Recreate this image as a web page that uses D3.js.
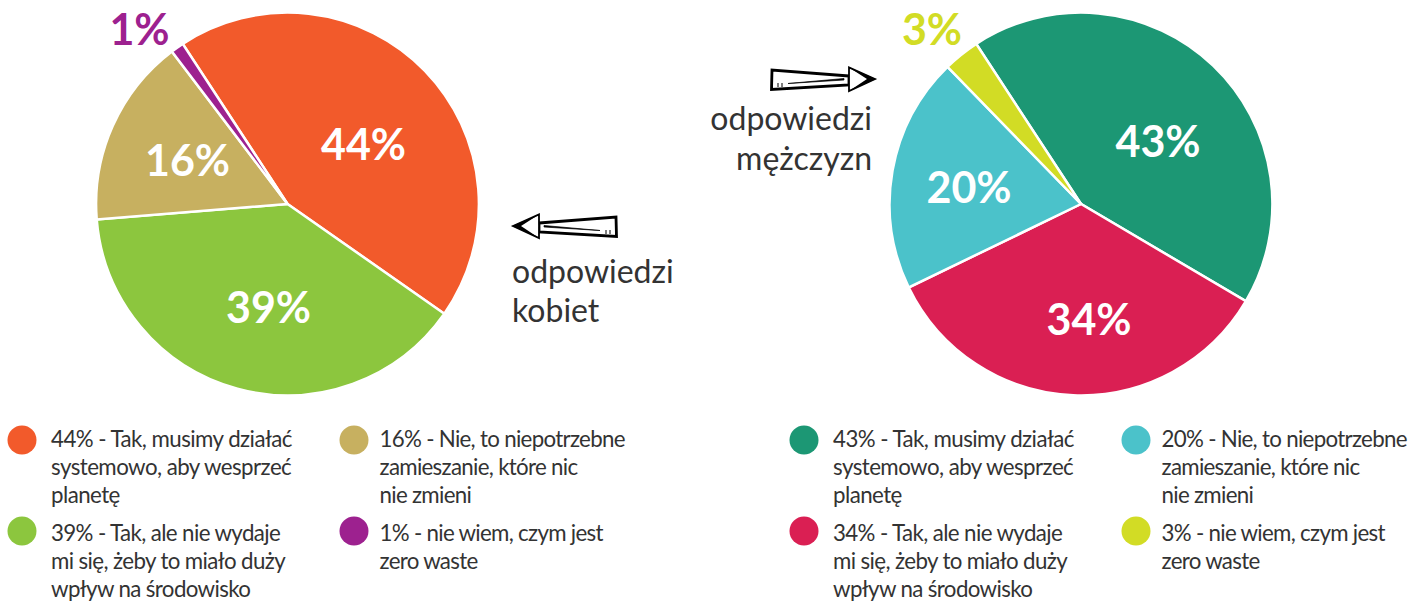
<!DOCTYPE html>
<html><head><meta charset="utf-8">
<script src="https://cdn.jsdelivr.net/npm/d3@7"></script>
<style>
html,body{margin:0;padding:0;background:#fff;overflow:hidden}
text{font-family:Lato,sans-serif}
</style></head><body><svg id="c" width="1426" height="603"></svg>
<script>
const womenValues=[43.94,39.0,15.96,1.1];
const womenLabels=["44%","39%","16%","1%"];
const womenColors=["#f25a2b","#8cc63e","#c7b060","#9d218f"];
const menValues=[42.7,34.34,19.9,3.06];
const menLabels=["43%","34%","20%","3%"];
const menColors=["#1c9774","#da1f53","#4bc2ca","#d2dc25"];
const legendWomen=[
 ["44% - Tak, musimy działać","systemowo, aby wesprzeć","planetę"],
 ["39% - Tak, ale nie wydaje","mi się, żeby to miało duży","wpływ na środowisko"],
 ["16% - Nie, to niepotrzebne","zamieszanie, które nic","nie zmieni"],
 ["1% - nie wiem, czym jest","zero waste"]];
const legendMen=[
 ["43% - Tak, musimy działać","systemowo, aby wesprzeć","planetę"],
 ["34% - Tak, ale nie wydaje","mi się, żeby to miało duży","wpływ na środowisko"],
 ["20% - Nie, to niepotrzebne","zamieszanie, które nic","nie zmieni"],
 ["3% - nie wiem, czym jest","zero waste"]];

// label anchor points relative to each pie's centre (layout only)
const womenLabelAt=[[76,-44],[-19,119],[-100,-28],[-148,-159]];
const menLabelAt=[[77,-47],[8,131],[-112,-1],[-149,-159]];

const svg=d3.select("#c");
const R=191.4,textDark="#333333";
const startDeg=-33.2;
function pie(cx,cy,vals,labels,cols,at){
  const g=svg.append("g").attr("transform",`translate(${cx},${cy})`);
  const a=d3.pie().sort(null).startAngle(startDeg*Math.PI/180).endAngle((startDeg+360)*Math.PI/180)(vals);
  const arc=d3.arc().innerRadius(0).outerRadius(R);
  g.selectAll("path").data(a).join("path").attr("d",arc)
   .attr("fill",(d,i)=>cols[i]).attr("stroke","#fff").attr("stroke-width",2.5);
  g.selectAll("text").data(a).join("text")
   .attr("text-anchor","middle").attr("font-weight",700).attr("font-size",43)
   .attr("fill",(d,i)=>i===3?cols[3]:"#fff")
   .attr("x",(d,i)=>at[i][0]).attr("y",(d,i)=>at[i][1])
   .text((d,i)=>labels[i]);
}
pie(287.5,204,womenValues,womenLabels,womenColors,womenLabelAt);
pie(1081,204,menValues,menLabels,menColors,menLabelAt);

function legend(x0,x1,items,cols){
  const pos=[[x0,440,x0+29,447,-0.55],[x0,531,x0+29,540.5,-0.62],[x1,440,x1+25.5,447,-0.7],[x1,531,x1+25.5,540.5,-0.7]];
  items.forEach((lines,i)=>{
    const [x,y,tx,ty,ls]=pos[i];
    svg.append("circle").attr("cx",x).attr("cy",y).attr("r",14.5).attr("fill",cols[i]);
    svg.append("g").selectAll("text").data(lines).join("text")
      .attr("x",tx).attr("y",(d,k)=>ty+k*28.2)
      .attr("font-size",22.3).attr("letter-spacing",ls).attr("fill",textDark).text(d=>d);
  });
}
legend(22,354,legendWomen,womenColors);
legend(804,1136,legendMen,menColors);

function note(x,y,lines,anchor){
  svg.append("g").selectAll("text").data(lines).join("text")
    .attr("x",x).attr("y",(d,k)=>y+k*39.5).attr("text-anchor",anchor)
    .attr("font-size",32).attr("fill",textDark).text(d=>d);
}
note(512,282.5,["odpowiedzi","kobiet"],"start");
note(872,130,["odpowiedzi","mężczyzn"],"end");

// hand-drawn arrows (decoration)
function arrow(t){
  const g=svg.append("g").attr("transform",t).attr("fill","none").attr("stroke","#000");
  g.append("path").attr("d","M27,-3 L104,-9 L104.5,10.5 L27,6 Z").attr("stroke-width",2.8).attr("fill","#fff");
  g.append("path").attr("d","M1,0 L27,-11.5 L27,12 Z").attr("stroke-width",1.8).attr("fill","#fff");
  g.append("path").attr("d","M0,0 L27,-11.5 L9,0 L27,12 Z").attr("stroke","none").attr("fill","#000");
  g.append("path").attr("d","M32,1 L88,4.5 L32,-0.5 Z").attr("stroke-width",0.7).attr("fill","#000");
  g.append("path").attr("d","M93,5 h2 M97,5 h2 M93,7 h2 M97,7 h2").attr("stroke-width",1.1);
}
arrow("translate(512,226)");
arrow("translate(876,79) scale(-1,1)");
</script></body></html>
